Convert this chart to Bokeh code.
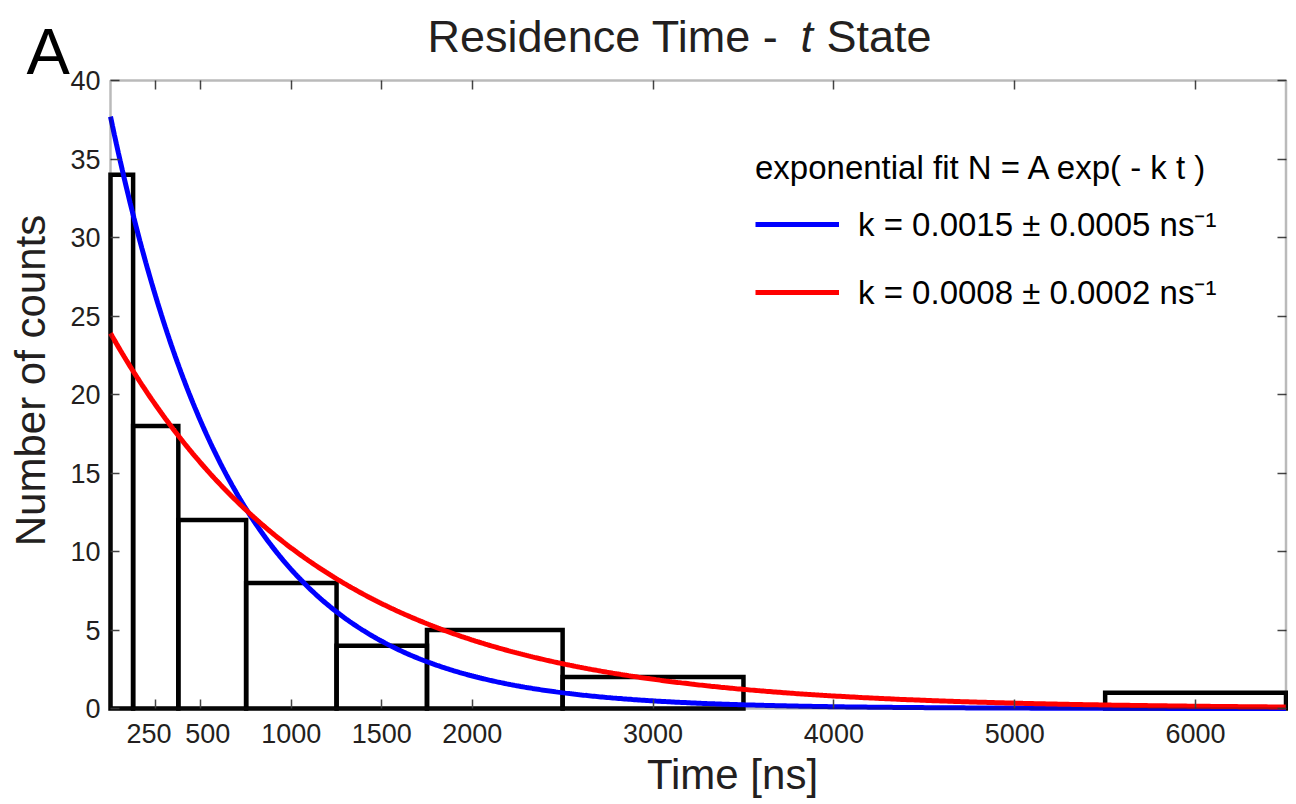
import numpy as np
from bokeh.plotting import figure
from bokeh.models import (Range1d, FixedTicker, LinearAxis, Legend, LegendItem, Label,
                          CustomLabelingPolicy, BoxAnnotation)
from bokeh.embed import file_html
from bokeh.resources import INLINE

# ---- data ----
bin_edges = [0, 125, 375, 750, 1250, 1750, 2500, 3500, 4500, 5500, 6500]
counts = [34, 18, 12, 8, 4, 5, 2, 0, 0, 1]
x_ticks = [250, 500, 1000, 1500, 2000, 3000, 4000, 5000, 6000]
y_ticks = [0, 5, 10, 15, 20, 25, 30, 35, 40]
x_domain = (0, 6500)
y_domain = (0, 40)
fit_blue_A, fit_blue_k = 37.7, 0.00145
fit_red_A, fit_red_k = 23.9, 0.00085
legend_title = "exponential fit N = A exp( - k t )"
legend_labels = ["k = 0.0015 ± 0.0005 ns⁻¹", "k = 0.0008 ± 0.0002 ns⁻¹"]
x_title = "Time [ns]"
y_title = "Number of counts"
panel_tag = "A"

FONT = "Liberation Sans"
TXT = "#231f20"

# ---- layout: the plotting box sits at 110..1285.5 x 80..708 px of a 1288x800 canvas ----
W, H = 1288, 800
BOX_L, BOX_R, BOX_T, BOX_B = 110, 1285.5, 80, 708
sx = (x_domain[1] - x_domain[0]) / (BOX_R - BOX_L)
sy = (y_domain[1] - y_domain[0]) / (BOX_B - BOX_T)
xr = Range1d(x_domain[0] - BOX_L * sx, x_domain[1] + (W - BOX_R) * sx)
yr = Range1d(y_domain[0] - (H - BOX_B) * sy, y_domain[1] + BOX_T * sy)

p = figure(width=W, height=H, output_backend="svg", toolbar_location=None,
           x_range=xr, y_range=yr, min_border=0,
           x_axis_location=None, y_axis_location=None)
p.xgrid.visible = False
p.ygrid.visible = False
p.outline_line_color = None
p.background_fill_color = "white"
p.border_fill_color = "white"

def style_axis(ax, ticks, labels=True):
    ax.ticker = FixedTicker(ticks=ticks)
    ax.axis_line_color = None
    ax.major_tick_in = 9
    ax.major_tick_out = 0
    ax.major_tick_line_color = "#444444"
    ax.major_tick_line_width = 1.5
    ax.minor_tick_line_color = None
    ax.major_label_text_font = FONT
    ax.major_label_text_color = TXT
    ax.major_label_text_font_size = "27px"
    ax.major_label_standoff = 10
    if not labels:
        ax.major_label_policy = CustomLabelingPolicy(
            code="for (const i of indices) { indices.unset(i) } return indices")

bx = LinearAxis(fixed_location=y_domain[0]); style_axis(bx, x_ticks)
# the two crowded first labels are nudged apart, as in the reference
bx.major_label_overrides = {250: "250\u2002", 500: "\u2002500"}
p.add_layout(bx, "below")
lx = LinearAxis(fixed_location=x_domain[0]); style_axis(lx, y_ticks); p.add_layout(lx, "left")
tx = LinearAxis(fixed_location=y_domain[1]); style_axis(tx, x_ticks, False); p.add_layout(tx, "above")
rx = LinearAxis(fixed_location=x_domain[1]); style_axis(rx, y_ticks, False); p.add_layout(rx, "right")

# histogram bars
lefts = [bin_edges[i] for i in range(len(counts)) if counts[i] > 0]
rights = [bin_edges[i + 1] for i in range(len(counts)) if counts[i] > 0]
tops = [c for c in counts if c > 0]
p.quad(left=lefts, right=rights, bottom=0, top=tops, fill_color=None,
       line_color="black", line_width=4.5, line_join="miter")

# exponential fit curves
t = np.linspace(bin_edges[0], bin_edges[-1], 600)
rb = p.line(t, fit_blue_A * np.exp(-fit_blue_k * t), line_color="#0000ff", line_width=5)
rr = p.line(t, fit_red_A * np.exp(-fit_red_k * t), line_color="#ff0000", line_width=5)

# plotting box
p.add_layout(BoxAnnotation(left=x_domain[0], right=x_domain[1], bottom=y_domain[0], top=y_domain[1],
                           fill_alpha=0, line_color="#1a1a1a", line_width=2.5, level="overlay"))

leg = Legend(items=[LegendItem(label=legend_labels[0], renderers=[rb]),
                    LegendItem(label=legend_labels[1], renderers=[rr])],
             location=(755, H - 314), title=legend_title,
             title_text_font=FONT, title_text_font_size="33px", title_text_font_style="normal",
             title_text_color="black", title_standoff=14,
             label_text_font=FONT, label_text_font_size="33px", label_text_color="black",
             glyph_width=84, glyph_height=40, label_height=40, label_standoff=19,
             spacing=23, padding=0, margin=0, border_line_color=None,
             background_fill_alpha=0)
p.add_layout(leg, "center")

# texts, in canvas pixels (x from left, y = baseline from top);
# Bokeh sets the glyph box a little lower than the alphabetic baseline, so lift by ~0.37 em
def lab(text, x, y, size, align="left", style="normal", angle=0.0, color=TXT):
    lift = 0.37 * size
    if angle:
        x, yy = x - lift, H - y
    else:
        x, yy = x, H - (y - lift)
    p.add_layout(Label(x=x, y=yy, x_units="screen", y_units="screen", text=text,
                       text_font=FONT, text_font_size=f"{size}px", text_font_style=style,
                       text_align=align, text_baseline="alphabetic", angle=angle,
                       text_color=color))

lab("Residence Time -", 778, 53, 45, align="right")
lab("t", 800, 53, 45, style="italic")
lab("State", 826, 53, 45)
lab(panel_tag, 26, 75, 65, color="black")
lab(x_title, 732, 790, 42, align="center")
lab(y_title, 46, 380, 42, align="center", angle=np.pi / 2)

open("out.html", "w").write(file_html(p, INLINE))
